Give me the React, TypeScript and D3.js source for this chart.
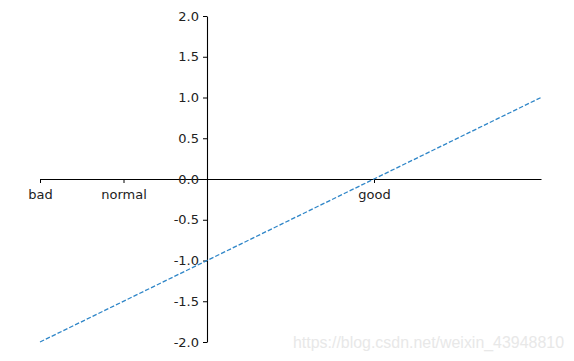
import React, { useEffect, useRef } from "react";
import * as d3 from "d3";

// line y = 0.5x - 1
const lineX = [-2, 0, 2, 4];
const lineY = [-2, -1, 0, 1];

const xTickValues = [-2, -1, 2];
const xTickLabels = ["bad", "normal", "good"];
const yTickValues = [-2, -1.5, -1, -0.5, 0, 0.5, 1, 1.5, 2];

const watermark = "https://blog.csdn.net/weixin_43948810";

const App: React.FC = () => {
  const svgRef = useRef<SVGSVGElement>(null);

  useEffect(() => {
    if (!svgRef.current) return;
    const svg = d3.select(svgRef.current);
    svg.selectAll("*").remove();

    const xScale = d3.scaleLinear().domain([-2, 4]).range([40, 541]);
    const yScale = d3.scaleLinear().domain([-2, 2]).range([342, 16]);

    const font = "'DejaVu Sans', sans-serif";

    // x axis through y = 0
    const xAxis = svg
      .append("g")
      .attr("transform", `translate(0,${yScale(0)})`)
      .call(
        d3
          .axisBottom(xScale)
          .tickValues(xTickValues)
          .tickFormat((d, i) => xTickLabels[i])
          .tickSizeInner(4)
          .tickSizeOuter(0)
          .tickPadding(7)
      );
    xAxis.select(".domain").attr("stroke", "#000").attr("stroke-width", 1.1);
    xAxis.selectAll(".tick line").attr("stroke", "#000");
    xAxis
      .selectAll(".tick text")
      .attr("fill", "#222")
      .style("font-family", font)
      .style("font-size", "13px");

    // y axis through x = 0
    const yAxis = svg
      .append("g")
      .attr("transform", `translate(${xScale(0)},0)`)
      .call(
        d3
          .axisLeft(yScale)
          .tickValues(yTickValues)
          .tickSizeInner(4)
          .tickSizeOuter(0)
          .tickPadding(4)
      );
    yAxis.select(".domain").attr("stroke", "#000").attr("stroke-width", 1.1);
    yAxis.selectAll(".tick line").attr("stroke", "#000");
    yAxis
      .selectAll(".tick text")
      .attr("fill", "#222")
      .style("font-family", font)
      .style("font-size", "13px")
      .text((d: any) => d3.format(".1f")(d).replace("−", "-"));

    // dashed line
    const pts = lineX.map((x, i) => [x, lineY[i]] as [number, number]);
    const line = d3
      .line<[number, number]>()
      .x((d) => xScale(d[0]))
      .y((d) => yScale(d[1]));
    svg
      .append("path")
      .datum(pts)
      .attr("fill", "none")
      .attr("stroke", "#2f86c8")
      .attr("stroke-width", 1.3)
      .attr("stroke-dasharray", "4.5,2")
      .attr("d", line);

    // watermark
    svg
      .append("text")
      .attr("x", 293)
      .attr("y", 348)
      .attr("textLength", 271)
      .attr("lengthAdjust", "spacingAndGlyphs")
      .attr("fill", "#e8e8e8")
      .style("font-family", "'Liberation Sans', Arial, sans-serif")
      .style("font-size", "16px")
      .text(watermark);
  }, []);

  return (
    <svg
      ref={svgRef}
      width={574}
      height={361}
      style={{ position: "absolute", left: 0, top: 0, background: "#fff" }}
    />
  );
};

export default App;
